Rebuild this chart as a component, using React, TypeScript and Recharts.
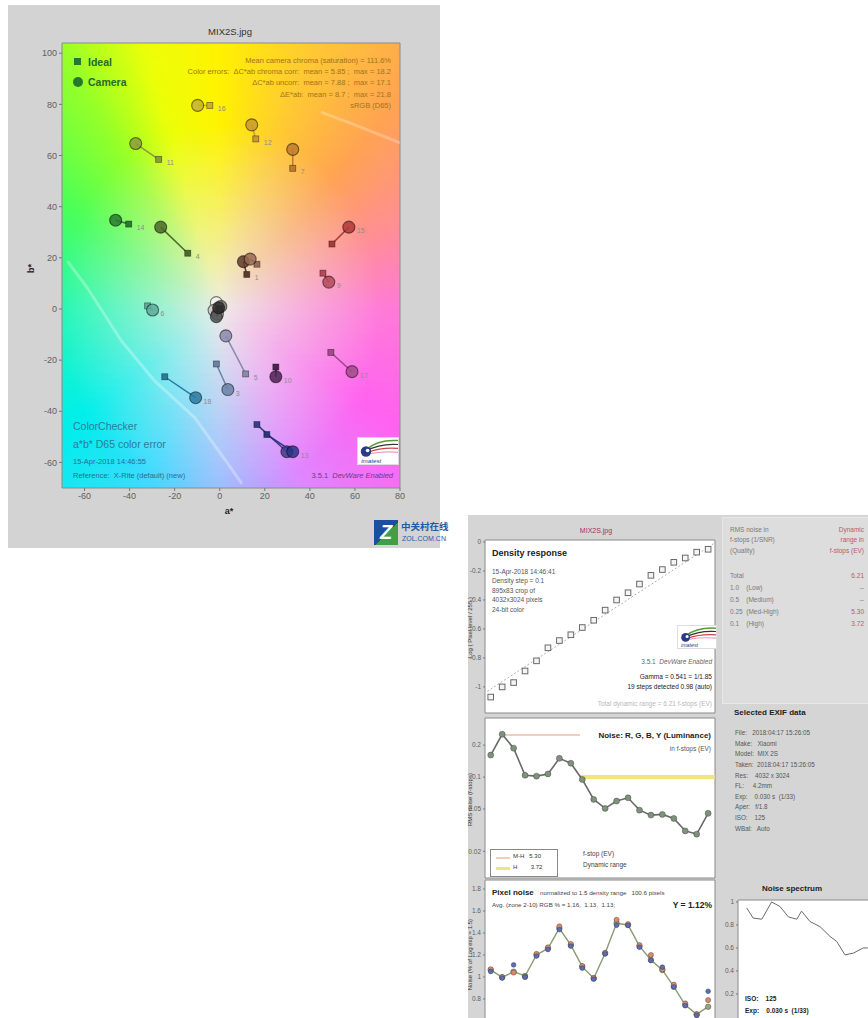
import React from 'react';
import { ScatterChart, Scatter, XAxis, YAxis, ReferenceArea, ComposedChart, Line, LineChart } from 'recharts';

const FONT = '"Liberation Sans", Arial, Helvetica, sans-serif';

// ---------- Panel A: a*b* color error ----------
const patchIds = [19, 20, 21, 22, 23, 24, 1, 2, 3, 4, 5, 6, 7, 8, 9, 10, 11, 12, 13, 14, 15, 16, 17, 18];
const idealA = [-0.5, -0.5, -0.5, 0, 0, 0, 12, 16.5, -1.5, -14.2, 11.5, -32, 32.4, 16.5, 45.8, 24.9, -27.1, 16, 20.9, -40.4, 49.8, -4.4, 49.3, -24.4];
const idealB = [1.5, 0, 0, 0, 0, 0, 13.5, 17.5, -21.5, 21.8, -25.4, 1.2, 55, -45.2, 14, -22.7, 58.5, 66.5, -49.1, 33.2, 25.4, 79.6, -17, -26.5];
const cameraA = [-1.5, -2.5, -1, 0.5, -1.5, -0.5, 10.5, 13.5, 3.6, -26.2, 2.7, -29.8, 32.4, 29.8, 48.4, 24.9, -37.3, 14.2, 32.4, -46.2, 57.3, -9.8, 58.7, -10.7];
const cameraB = [2.5, -0.5, -2, 1, -3, 0.5, 18.5, 19.5, -31.5, 32, -10.5, -0.4, 62.4, -55.8, 10.5, -26.5, 64.7, 72, -55.8, 34.7, 32, 79.6, -24.5, -34.7];
const patchColors = ['#f2f2f2', '#c8c8c8', '#a0a0a0', '#787878', '#505050', '#2e2e2e', '#5e3c2a', '#9a6a56', '#6a82a4', '#4c6a2c', '#8a8aac', '#5eaa9a', '#c07a30', '#3c3c8c', '#b24a5a', '#4c2252', '#8c9c3a', '#c89a30', '#2c3282', '#2a7a32', '#b03a3a', '#c8b032', '#a24a8a', '#2a7aa2'];
const labelAt = ['n', 'n', 'n', 'n', 'n', 'n', 'i', 'n', 'c', 'i', 'i', 'c', 'i', 'n', 'c', 'c', 'i', 'i', 'c', 'i', 'c', 'i', 'c', 'c'];
const gamutLowA = [-67.6, -58.7, -43.6, -28.9, -11.1, 3.6, 9.8];
const gamutLowB = [18.7, 8.2, -12.5, -28.1, -42.5, -60.5, -68.3];
const gamutHighA = [45, 60, 80];
const gamutHighB = [77, 72, 65];
const aTicks = [-60, -40, -20, 0, 20, 40, 60, 80];
const bTicks = [-60, -40, -20, 0, 20, 40, 60, 80, 100];

// background hue anchors (angle in a*b* plane -> colour)
const hueAngles = [0, 20, 45, 70, 90, 108, 125, 150, 180, 215, 245, 270, 300, 330, 360];
const hueColors = [
  [255, 122, 216], [255, 140, 156], [255, 162, 84], [255, 204, 48], [255, 242, 0], [236, 255, 8],
  [150, 255, 40], [72, 255, 90], [34, 248, 180], [0, 238, 236], [64, 218, 255], [152, 190, 255],
  [226, 132, 255], [255, 98, 240], [255, 122, 216],
];
const centerColor = [238, 236, 232];

// ---------- Panel B: density / noise ----------
const densityY = [-1.07, -1.0, -0.97, -0.89, -0.82, -0.73, -0.68, -0.64, -0.59, -0.54, -0.47, -0.4, -0.35, -0.29, -0.23, -0.19, -0.14, -0.11, -0.07, -0.05];
const densityFitX = [-0.3, 19.6];
const densityFitY = [-1.03, -0.005];
const densityTicks = [0, -0.2, -0.4, -0.6, -0.8, -1];
const noiseY = [0.161, 0.253, 0.187, 0.104, 0.102, 0.107, 0.15, 0.135, 0.095, 0.0616, 0.0507, 0.0594, 0.0638, 0.0488, 0.0438, 0.0445, 0.0408, 0.0311, 0.029, 0.0455];
const noiseTicks = [0.02, 0.05, 0.1, 0.2];
const mhLineX = [1, 7.8];
const mhLineY = [0.249, 0.249];
const hLineX = [7.8, 19.6];
const hLineY = [0.1, 0.1];
const pixY = [1.064, 0.997, 1.048, 1.009, 1.2, 1.26, 1.443, 1.29, 1.094, 0.988, 1.215, 1.488, 1.473, 1.28, 1.155, 1.064, 0.912, 0.745, 0.66, 0.73];
const pixR = [1.07, 1.0, 1.04, 1.0, 1.21, 1.27, 1.46, 1.3, 1.1, 0.99, 1.22, 1.52, 1.48, 1.29, 1.2, 1.07, 0.93, 0.76, 0.66, 0.79];
const pixB = [1.05, 0.99, 1.11, 1.0, 1.19, 1.25, 1.43, 1.28, 1.08, 0.98, 1.21, 1.47, 1.47, 1.27, 1.15, 1.09, 0.91, 0.74, 0.65, 0.87];
const pixTicks = [0.8, 1, 1.2, 1.4, 1.6, 1.8];
const specF = [0.031, 0.054, 0.085, 0.12, 0.15, 0.18, 0.21, 0.227, 0.257, 0.293, 0.329, 0.353, 0.382, 0.412, 0.447, 0.464];
const specV = [0.948, 0.86, 0.85, 1.0, 0.96, 0.87, 0.85, 0.92, 0.83, 0.785, 0.7, 0.655, 0.54, 0.555, 0.6, 0.6];
const specTicks = [0.2, 0.4, 0.6, 0.8, 1];

const exifLines = [
  'File:   2018:04:17 15:26:05',
  'Make:   Xiaomi',
  'Model:  MIX 2S',
  'Taken:  2018:04:17 15:26:05',
  'Res:    4032 x 3024',
  'FL:     4.2mm',
  'Exp:    0.030 s  (1/33)',
  'Aper:   f/1.8',
  'ISO:    125',
  'WBal:   Auto',
];
const drLabels = ['Total', '1.0    (Low)', '0.5    (Medium)', '0.25  (Med-High)', '0.1    (High)'];
const drValues = ['6.21', '--', '--', '5.30', '3.72'];

// ---------- helpers ----------
function bgColor(a: number, b: number) {
  const r = Math.hypot(a, b);
  let th = (Math.atan2(b, a) * 180) / Math.PI;
  if (th < 0) th += 360;
  let i = 0;
  while (i < hueAngles.length - 2 && th > hueAngles[i + 1]) i++;
  const t = (th - hueAngles[i]) / (hueAngles[i + 1] - hueAngles[i]);
  const hc = [0, 1, 2].map((k) => hueColors[i][k] + (hueColors[i + 1][k] - hueColors[i][k]) * t);
  const s = Math.min(1, Math.pow(r / 72, 0.9));
  const c = [0, 1, 2].map((k) => Math.round(centerColor[k] + (hc[k] - centerColor[k]) * s));
  return `rgb(${c[0]},${c[1]},${c[2]})`;
}

const A_MIN = -70, A_MAX = 80, B_MIN = -70, B_MAX = 104;
const rowStep = 2.5;
const bgRows: number[] = [];
for (let b0 = B_MIN; b0 < B_MAX; b0 += rowStep) bgRows.push(b0);
const aStops: number[] = [];
for (let a = A_MIN; a <= A_MAX; a += 5) aStops.push(a);

const patchSeries = patchIds.map((id, i) => ({
  id,
  color: patchColors[i],
  data: [
    { a: idealA[i], b: idealB[i], kind: 'ideal', label: labelAt[i] === 'i' ? String(id) : '', color: patchColors[i] },
    { a: cameraA[i], b: cameraB[i], kind: 'camera', label: labelAt[i] === 'c' ? String(id) : '', color: patchColors[i] },
  ],
}));
const gamutLow = gamutLowA.map((a, i) => ({ a, b: gamutLowB[i] }));
const gamutHigh = gamutHighA.map((a, i) => ({ a, b: gamutHighB[i] }));

const densityData = densityY.map((y, i) => ({ x: i, y }));
const densityFit = densityFitX.map((x, i) => ({ x, y: densityFitY[i] }));
const noiseData = noiseY.map((y, i) => ({ x: i, y }));
const mhLine = mhLineX.map((x, i) => ({ x, y: mhLineY[i] }));
const hLine = hLineX.map((x, i) => ({ x, y: hLineY[i] }));
const pixData = pixY.map((y, i) => ({ x: i, y }));
const pixRData = pixR.map((y, i) => ({ x: i, y }));
const pixBData = pixB.map((y, i) => ({ x: i, y }));
const specData = specF.map((x, i) => ({ x, y: specV[i] }));

const Empty = () => <g />;

const PatchShape = (props: any) => {
  const { cx, cy, payload } = props;
  if (cx == null || cy == null) return <g />;
  const col = payload.color;
  const lbl = payload.label ? (
    <text x={cx + 8} y={cy + 6} fontSize={7} fill="#8c8c8c" fontFamily={FONT}>
      {payload.label}
    </text>
  ) : null;
  if (payload.kind === 'ideal') {
    return (
      <g>
        <rect x={cx - 3} y={cy - 3} width={6} height={6} fill={col} stroke="rgba(0,0,0,0.45)" strokeWidth={0.8} />
        {lbl}
      </g>
    );
  }
  return (
    <g>
      <circle cx={cx} cy={cy} r={6} fill={col} fillOpacity={0.85} stroke="rgba(0,0,0,0.5)" strokeWidth={1.1} />
      {lbl}
    </g>
  );
};

const SquareDot = (props: any) => {
  const { cx, cy } = props;
  if (cx == null || cy == null) return <g />;
  return <rect x={cx - 2.8} y={cy - 2.8} width={5.6} height={5.6} fill="#f4f4f4" stroke="#6a6a6a" strokeWidth={1} />;
};

const makeDot = (fill: string, r: number) => (props: any) => {
  const { cx, cy } = props;
  if (cx == null || cy == null) return <g />;
  return <circle cx={cx} cy={cy} r={r} fill={fill} stroke="rgba(40,40,40,0.6)" strokeWidth={0.6} />;
};

type TP = {
  x: number; y: number; size?: number; color?: string; bold?: boolean; italic?: boolean;
  anchor?: 'start' | 'end' | 'middle'; rotate?: boolean; children: React.ReactNode; family?: string;
};
const T = ({ x, y, size = 7, color = '#333', bold, italic, anchor = 'start', rotate, children, family }: TP) => {
  const style: React.CSSProperties = {
    position: 'absolute', top: y - size * 0.6, fontSize: size, lineHeight: `${size * 1.2}px`, color,
    fontWeight: bold ? 700 : 400, fontStyle: italic ? 'italic' : 'normal', whiteSpace: 'pre',
    fontFamily: family || FONT,
  };
  if (rotate) {
    style.left = x;
    style.transform = 'translate(-50%, 0) rotate(-90deg)';
    style.transformOrigin = '50% 50%';
  } else if (anchor === 'end') {
    style.right = 868 - x;
  } else if (anchor === 'middle') {
    style.left = x;
    style.transform = 'translateX(-50%)';
  } else {
    style.left = x;
  }
  return <div style={style}>{children}</div>;
};

const ImatestLogo = ({ x, y, w, h }: { x: number; y: number; w: number; h: number }) => (
  <div style={{ position: 'absolute', left: x, top: y, width: w, height: h, background: '#fff', border: '1px solid #ddd' }}>
    <svg width={w} height={h} style={{ display: 'block' }}>
      <path d={`M${w * 0.2} ${h * 0.45} Q${w * 0.5} ${h * 0.05} ${w} ${h * 0.1}`} stroke="#5a9a3a" strokeWidth={1.5} fill="none" />
      <path d={`M${w * 0.2} ${h * 0.5} Q${w * 0.55} ${h * 0.2} ${w} ${h * 0.25}`} stroke="#333" strokeWidth={1.2} fill="none" />
      <path d={`M${w * 0.25} ${h * 0.55} Q${w * 0.6} ${h * 0.35} ${w} ${h * 0.4}`} stroke="#c44" strokeWidth={1.2} fill="none" />
      <path d={`M${w * 0.3} ${h * 0.6} Q${w * 0.65} ${h * 0.5} ${w} ${h * 0.55}`} stroke="#e8a0c0" strokeWidth={1.2} fill="none" />
      <circle cx={w * 0.2} cy={h * 0.52} r={h * 0.2} fill="#2a3a8a" />
      <circle cx={w * 0.24} cy={h * 0.48} r={h * 0.07} fill="#fff" />
      <text x={w * 0.08} y={h * 0.95} fontSize={h * 0.24} fill="#2a3a8a" fontFamily={FONT} fontStyle="italic">imatest</text>
    </svg>
  </div>
);

const tickA = { fontSize: 9, fill: '#606060', fontFamily: FONT };
const tickB = { fontSize: 6.5, fill: '#606060', fontFamily: FONT };

export default function App() {
  return (
    <div style={{ position: 'fixed', left: 0, top: 0, width: 868, height: 1018, overflow: 'hidden', background: '#fff' }}>
      <svg width={0} height={0} style={{ position: 'absolute' }}>
        <defs>
          {bgRows.map((b0, i) => (
            <linearGradient key={i} id={`bgrow${i}`} x1="0" y1="0" x2="1" y2="0">
              {aStops.map((a) => (
                <stop key={a} offset={(a - A_MIN) / (A_MAX - A_MIN)} stopColor={bgColor(a, b0 + rowStep / 2)} />
              ))}
            </linearGradient>
          ))}
        </defs>
      </svg>

      {/* ===== Panel A ===== */}
      <div style={{ position: 'absolute', left: 8, top: 5, width: 432, height: 543, background: '#d3d3d3' }}>
        <ScatterChart width={432} height={543} margin={{ top: 38, right: 40, bottom: 40, left: 24 }}>
          <XAxis type="number" dataKey="a" domain={[A_MIN, A_MAX]} ticks={aTicks} allowDataOverflow
            tick={tickA} tickSize={3} axisLine={false} stroke="#777" height={20} />
          <YAxis type="number" dataKey="b" domain={[B_MIN, B_MAX]} ticks={bTicks} allowDataOverflow
            tick={tickA} tickSize={3} axisLine={false} stroke="#777" width={30} />
          {bgRows.map((b0, i) => (
            <ReferenceArea key={i} x1={A_MIN} x2={A_MAX} y1={b0} y2={Math.min(b0 + rowStep + 0.3, B_MAX)}
              fill={`url(#bgrow${i})`} fillOpacity={1} stroke="none" ifOverflow="hidden" />
          ))}
          <ReferenceArea x1={A_MIN} x2={A_MAX} y1={B_MIN} y2={B_MAX} fill="none" fillOpacity={0} stroke="#8a8a8a" strokeWidth={1} />
          <Scatter data={gamutLow} fill="#fff" line={{ stroke: 'rgba(255,255,255,0.3)', strokeWidth: 3 }} shape={Empty} isAnimationActive={false} />
          <Scatter data={gamutHigh} fill="#fff" line={{ stroke: 'rgba(255,255,255,0.25)', strokeWidth: 3 }} shape={Empty} isAnimationActive={false} />
          {patchSeries.map((p) => (
            <Scatter key={p.id} data={p.data} fill={p.color} line={{ stroke: p.color, strokeWidth: 1.5 }}
              shape={PatchShape} isAnimationActive={false} />
          ))}
        </ScatterChart>
      </div>
      <T x={230} y={32} size={9.5} color="#333" anchor="middle">MIX2S.jpg</T>
      <div style={{ position: 'absolute', left: 74, top: 58, width: 7, height: 7, background: '#237a2e' }} />
      <T x={88} y={62} size={10.5} bold color="#246b2c">Ideal</T>
      <div style={{ position: 'absolute', left: 73, top: 77, width: 10, height: 10, borderRadius: 5, background: '#237a2e' }} />
      <T x={88} y={82} size={10.5} bold color="#246b2c">Camera</T>
      <T x={391} y={60} size={7.5} color="#9e7418" anchor="end">Mean camera chroma (saturation) = 111.6%</T>
      <T x={391} y={71} size={7.5} color="#9e7418" anchor="end">Color errors:  ΔC*ab chroma corr:  mean = 5.85 ;  max = 18.2</T>
      <T x={391} y={82} size={7.5} color="#9e7418" anchor="end">ΔC*ab uncorr:  mean = 7.88 ;  max = 17.1</T>
      <T x={391} y={94} size={7.5} color="#9e7418" anchor="end">ΔE*ab:  mean = 8.7 ;  max = 21.8</T>
      <T x={391} y={105} size={7.5} color="#9e7418" anchor="end">sRGB (D65)</T>
      <T x={73} y={426} size={10.5} color="#2a7c9a">ColorChecker</T>
      <T x={73} y={444} size={10.5} color="#2a7c9a">a*b* D65 color error</T>
      <T x={73} y={461} size={7.5} color="#2a6f8c">15-Apr-2018 14:46:55</T>
      <T x={73} y={475} size={7.5} color="#2a6f8c">Reference:  X-Rite (default) (new)</T>
      <T x={393} y={475} size={7.5} color="#6a3a8c" anchor="end">3.5.1  <i>DevWare Enabled</i></T>
      <ImatestLogo x={357} y={437} w={40} h={26} />
      <T x={31} y={268} size={9} bold color="#222" rotate>b*</T>
      <T x={229} y={511} size={9} bold color="#222" anchor="middle">a*</T>
      {/* ZOL watermark */}
      <div style={{ position: 'absolute', left: 374, top: 520, width: 24, height: 25, background: 'linear-gradient(135deg, #1c4f9e 0%, #1c4f9e 55%, #3f9e47 55%, #3f9e47 100%)' }}>
        <div style={{ color: '#fff', fontWeight: 700, fontStyle: 'italic', fontSize: 20, lineHeight: '25px', textAlign: 'center', fontFamily: FONT }}>Z</div>
      </div>
      <T x={401} y={527} size={9.5} bold color="#1d5aa8" family='"Noto Sans CJK SC", sans-serif'>中关村在线</T>
      <T x={402} y={539} size={7} color="#1d5aa8">ZOL.COM.CN</T>

      {/* ===== Panel B ===== */}
      <div style={{ position: 'absolute', left: 468, top: 515, width: 400, height: 503, background: '#d5d5d5' }} />
      <div style={{ position: 'absolute', left: 722, top: 517, width: 146, height: 185, background: '#dddddd', border: '1px solid #e8e8e8' }} />
      <T x={596} y={531} size={7} color="#a0306e" anchor="middle">MIX2S.jpg</T>

      {/* density response */}
      <div style={{ position: 'absolute', left: 468, top: 515 }}>
        <ComposedChart width={252} height={205} margin={{ top: 25, right: 5, bottom: 7, left: 0 }}>
          <XAxis type="number" dataKey="x" domain={[-0.5, 19.6]} hide allowDataOverflow />
          <YAxis type="number" dataKey="y" domain={[-1.18, 0.014]} ticks={densityTicks} allowDataOverflow
            tick={tickB} tickSize={2} axisLine={false} stroke="#777" width={17} />
          <ReferenceArea x1={-0.5} x2={19.6} y1={-1.18} y2={0.014} fill="#fff" fillOpacity={1} stroke="#8a8a8a" />
          <Line data={densityFit} dataKey="y" stroke="#9a9a9a" strokeWidth={0.8} strokeDasharray="2 2" dot={false} isAnimationActive={false} />
          <Scatter data={densityData} dataKey="y" shape={SquareDot} isAnimationActive={false} />
        </ComposedChart>
      </div>
      <T x={492} y={553} size={9} bold color="#222">Density response</T>
      <T x={492} y={572} size={6.5} color="#555">15-Apr-2018 14:46:41</T>
      <T x={492} y={581} size={6.5} color="#555">Density step = 0.1</T>
      <T x={492} y={591} size={6.5} color="#555">895x83 crop of</T>
      <T x={492} y={600} size={6.5} color="#555">4032x3024 pixels</T>
      <T x={492} y={610} size={6.5} color="#555">24-bit color</T>
      <ImatestLogo x={677} y={625} w={38} h={22} />
      <T x={712} y={662} size={6.5} color="#666" anchor="end">3.5.1  <i>DevWare Enabled</i></T>
      <T x={712} y={677} size={6.5} color="#222" anchor="end">Gamma = 0.541 = 1/1.85</T>
      <T x={712} y={687} size={6.5} color="#222" anchor="end">19 steps detected 0.98 (auto)</T>
      <T x={712} y={704} size={6.5} color="#b8b8b8" anchor="end">Total dynamic range = 6.21 f-stops (EV)</T>
      <T x={471} y={628} size={6} color="#333" rotate>Log ( Pixel level / 255 )</T>

      {/* noise */}
      <div style={{ position: 'absolute', left: 468, top: 714 }}>
        <ComposedChart width={252} height={170} margin={{ top: 4, right: 5, bottom: 6, left: 0 }}>
          <XAxis type="number" dataKey="x" domain={[-0.5, 19.6]} hide allowDataOverflow />
          <YAxis type="number" dataKey="y" scale="log" domain={[0.0112, 0.36]} ticks={noiseTicks} allowDataOverflow
            tick={tickB} tickSize={2} axisLine={false} stroke="#777" width={17} />
          <ReferenceArea x1={-0.5} x2={19.6} y1={0.0112} y2={0.36} fill="#fff" fillOpacity={1} stroke="#8a8a8a" />
          <Line data={mhLine} dataKey="y" stroke="#f2cdbb" strokeWidth={2} dot={false} isAnimationActive={false} />
          <Line data={hLine} dataKey="y" stroke="#f3e37c" strokeWidth={4} dot={false} isAnimationActive={false} />
          <Line data={noiseData} dataKey="y" stroke="#6a6a6a" strokeWidth={1.6} dot={makeDot('#7f937c', 3)} isAnimationActive={false} />
        </ComposedChart>
      </div>
      <T x={711} y={736} size={8} bold color="#222" anchor="end">Noise: R, G, B, Y (Luminance)</T>
      <T x={711} y={749} size={6.5} color="#555" anchor="end">in f-stops (EV)</T>
      <div style={{ position: 'absolute', left: 490, top: 849, width: 66, height: 26, background: '#fff', border: '1px solid #888' }}>
        <div style={{ position: 'absolute', left: 5, top: 7, width: 14, height: 2, background: '#f2cdbb' }} />
        <div style={{ position: 'absolute', left: 5, top: 17, width: 14, height: 3, background: '#f3e37c' }} />
      </div>
      <T x={513} y={857} size={6} color="#333">M-H   5.30</T>
      <T x={513} y={868} size={6} color="#333">H        3.72</T>
      <T x={583} y={854} size={6.5} color="#444">f-stop (EV)</T>
      <T x={583} y={865} size={6.5} color="#444">Dynamic range</T>
      <T x={471} y={800} size={6} color="#333" rotate>RMS noise (f-stops)</T>

      {/* pixel noise */}
      <div style={{ position: 'absolute', left: 468, top: 876 }}>
        <ComposedChart width={252} height={160} margin={{ top: 4, right: 5, bottom: 6, left: 0 }}>
          <XAxis type="number" dataKey="x" domain={[-0.5, 19.6]} hide allowDataOverflow />
          <YAxis type="number" dataKey="y" domain={[0.518, 1.882]} ticks={pixTicks} allowDataOverflow
            tick={tickB} tickSize={2} axisLine={false} stroke="#777" width={17} />
          <ReferenceArea x1={-0.5} x2={19.6} y1={0.518} y2={1.882} fill="#fff" fillOpacity={1} stroke="#8a8a8a" />
          <Line data={pixData} dataKey="y" stroke="#8a9a72" strokeWidth={1.4} dot={makeDot('#93a878', 2.8)} isAnimationActive={false} />
          <Scatter data={pixRData} dataKey="y" shape={makeDot('#d98a6e', 2.6)} isAnimationActive={false} />
          <Scatter data={pixBData} dataKey="y" shape={makeDot('#5c6cb8', 2.4)} isAnimationActive={false} />
        </ComposedChart>
      </div>
      <T x={492} y={893} size={8} bold color="#222">Pixel noise</T>
      <T x={540} y={893} size={6.2} color="#444">normalized to 1.5 density range   100.6 pixels</T>
      <T x={492} y={905} size={6.2} color="#444">Avg. (zone 2-10) RGB % = 1.16,  1.13,  1.13;</T>
      <T x={712} y={905} size={8.5} bold color="#222" anchor="end">Y = 1.12%</T>
      <T x={471} y={955} size={6} color="#333" rotate>Noise (% of Log exp = 1.5)</T>

      {/* EXIF + DR table */}
      <T x={730} y={530} size={6.5} color="#7a7a7a">RMS noise in</T>
      <T x={730} y={540} size={6.5} color="#7a7a7a">f-stops (1/SNR)</T>
      <T x={730} y={551} size={6.5} color="#7a7a7a">(Quality)</T>
      <T x={864} y={530} size={6.5} color="#b85a6a" anchor="end">Dynamic</T>
      <T x={864} y={540} size={6.5} color="#b85a6a" anchor="end">range in</T>
      <T x={864} y={551} size={6.5} color="#b85a6a" anchor="end">f-stops (EV)</T>
      {drLabels.map((l, i) => (
        <T key={l} x={730} y={576 + i * 12} size={6.5} color="#7a7a7a">{l}</T>
      ))}
      {drValues.map((v, i) => (
        <T key={i} x={864} y={576 + i * 12} size={6.5} color={v === '--' ? '#7a7a7a' : '#b85a6a'} anchor="end">{v}</T>
      ))}
      <T x={734} y={713} size={8} bold color="#222">Selected EXIF data</T>
      {exifLines.map((l, i) => (
        <T key={i} x={735} y={733 + i * 10.6} size={6.3} color="#555">{l}</T>
      ))}

      {/* noise spectrum */}
      <T x={792} y={889} size={8} bold color="#222" anchor="middle">Noise spectrum</T>
      <div style={{ position: 'absolute', left: 722, top: 896 }}>
        <LineChart width={156} height={130} margin={{ top: 4, right: 0, bottom: 1, left: 0 }}>
          <XAxis type="number" dataKey="x" domain={[0, 0.5]} hide allowDataOverflow />
          <YAxis type="number" dataKey="y" domain={[-0.07, 1.017]} ticks={specTicks} allowDataOverflow
            tick={tickB} tickSize={2} axisLine={false} stroke="#777" width={16} />
          <ReferenceArea x1={0} x2={0.5} y1={-0.07} y2={1.017} fill="#fff" fillOpacity={1} stroke="#8a8a8a" />
          <Line data={specData} dataKey="y" stroke="#6a6a6a" strokeWidth={1} dot={false} isAnimationActive={false} />
        </LineChart>
      </div>
      <T x={745} y={999} size={6.5} bold color="#222">ISO:    125</T>
      <T x={745} y={1011} size={6.5} bold color="#222">Exp:    0.030 s  (1/33)</T>
    </div>
  );
}
